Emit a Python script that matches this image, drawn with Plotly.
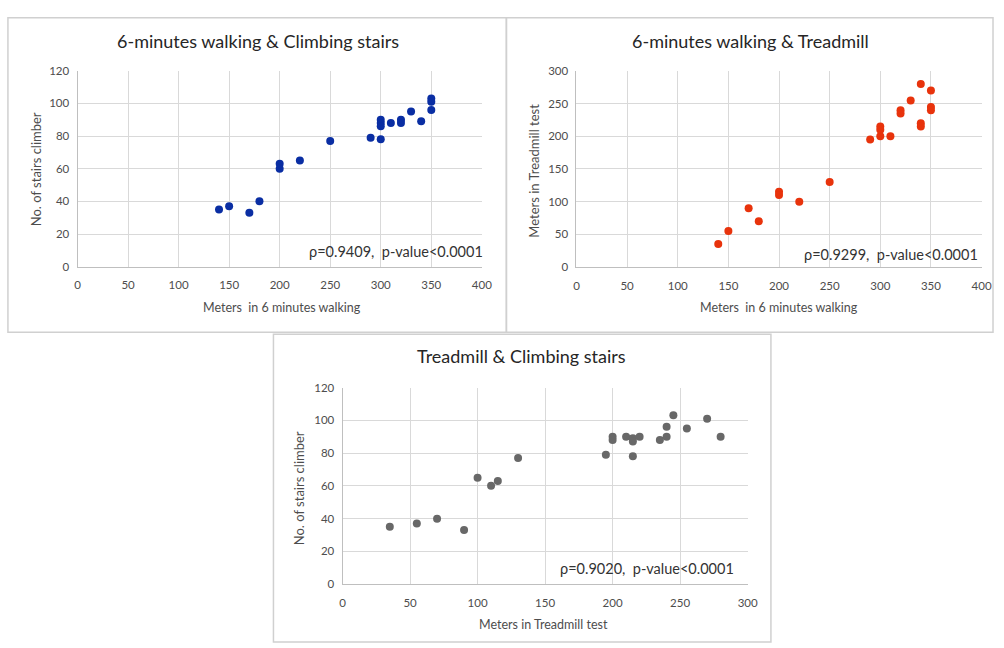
import plotly.graph_objects as go

# ---------------- data ----------------
walk1 = [140, 150, 170, 180, 200, 200, 220, 250, 290, 300, 300, 300, 300, 310, 320, 320, 330, 340, 350, 350, 350]
stairs1 = [35, 37, 33, 40, 63, 60, 65, 77, 79, 78, 90, 88, 86, 88, 90, 88, 95, 89, 103, 101, 96]

walk2 = [140, 150, 170, 180, 200, 200, 220, 250, 290, 300, 300, 300, 310, 320, 320, 330, 340, 340, 340, 350, 350, 350]
tread2 = [35, 55, 90, 70, 115, 110, 100, 130, 195, 200, 215, 210, 200, 240, 235, 255, 280, 220, 215, 270, 245, 240]

tread3 = [35, 55, 70, 90, 100, 110, 115, 130, 195, 200, 200, 210, 215, 215, 215, 220, 235, 240, 240, 245, 255, 270, 280]
stairs3 = [35, 37, 40, 33, 65, 60, 63, 77, 79, 90, 88, 90, 89, 87, 78, 90, 88, 96, 90, 103, 95, 101, 90]

titles = ["6-minutes walking & Climbing stairs", "6-minutes walking & Treadmill", "Treadmill & Climbing stairs"]
xtitles = ["Meters  in 6 minutes walking", "Meters  in 6 minutes walking", "Meters in Treadmill test"]
ytitles = ["No. of stairs climber", "Meters in Treadmill test", "No. of stairs climber"]
notes = ["\u03c1=0.9409,  p-value<0.0001", "\u03c1=0.9299,  p-value<0.0001", "\u03c1=0.9020,  p-value<0.0001"]
colors = ["#0a2ea3", "#e8330c", "#686868"]

W, H = 1004, 648
FONT = "Lato"

def px(x):
    return x / W

def py(y):
    return 1 - y / H

fig = go.Figure()
fig.add_trace(go.Scatter(x=walk1, y=stairs1, mode="markers", xaxis="x", yaxis="y",
                         marker=dict(color=colors[0], size=8), showlegend=False))
fig.add_trace(go.Scatter(x=walk2, y=tread2, mode="markers", xaxis="x2", yaxis="y2",
                         marker=dict(color=colors[1], size=8), showlegend=False))
fig.add_trace(go.Scatter(x=tread3, y=stairs3, mode="markers", xaxis="x3", yaxis="y3",
                         marker=dict(color=colors[2], size=8), showlegend=False))

grid = "#d9d9d9"
axline = "#bfbfbf"
tickfont = dict(family=FONT, size=11.5, color="#4d4d4d")

def xax(dom, anchor, rng, dtick):
    return dict(domain=[px(dom[0]), px(dom[1])], anchor=anchor, range=rng, dtick=dtick,
                showgrid=True, gridcolor=grid, gridwidth=1, showline=True, linecolor=axline,
                zeroline=False, ticks="", tickfont=tickfont, ticklabelstandoff=8, fixedrange=True)

def yax(dom, anchor, rng, dtick):
    return dict(domain=[py(dom[1]), py(dom[0])], anchor=anchor, range=rng, dtick=dtick,
                showgrid=True, gridcolor=grid, gridwidth=1, showline=True, linecolor=axline,
                zeroline=False, ticks="", tickfont=tickfont, ticklabelstandoff=5, fixedrange=True)

fig.update_layout(
    width=W, height=H,
    margin=dict(l=0, r=0, t=0, b=0),
    paper_bgcolor="white", plot_bgcolor="white",
    xaxis=xax((75.5, 485.1), "y", [0, 400], 50),
    yaxis=yax((65, 265), "x", [0, 120], 20),
    xaxis2=xax((581, 991.4), "y2", [0, 400], 50),
    yaxis2=yax((65.3, 265.3), "x2", [0, 300], 50),
    xaxis3=xax((344, 754.4), "y3", [0, 300], 50),
    yaxis3=yax((388.3, 589), "x3", [0, 120], 20),
)

# panel borders
panels = [(5, 11, 510, 332), (510, 11, 1003, 332), (274, 334, 778, 648)]
for (x0, y0, x1, y1) in panels:
    fig.add_shape(type="rect", xref="paper", yref="paper",
                  x0=px(x0), x1=px(x1), y0=py(y1), y1=py(y0),
                  line=dict(color="#d0d0d0", width=1.5), layer="below")

ann = []
title_pos = [(258, 35), (757, 35), (525, 356)]
xt_pos = [(283, 307), (786, 307), (548, 630)]
yt_pos = [(33, 166), (538, 167), (300, 491)]
note_pos = [(488, 250), (990, 253), (743, 573)]
for i in range(3):
    ann.append(dict(text=titles[i], x=px(title_pos[i][0]), y=py(title_pos[i][1]), xref="paper", yref="paper",
                    showarrow=False, xanchor="center", yanchor="middle",
                    font=dict(family=FONT, size=18, color="#262626")))
    ann.append(dict(text=xtitles[i], x=px(xt_pos[i][0]), y=py(xt_pos[i][1]), xref="paper", yref="paper",
                    showarrow=False, xanchor="center", yanchor="middle",
                    font=dict(family=FONT, size=12.5, color="#4d4d4d")))
    ann.append(dict(text=ytitles[i], x=px(yt_pos[i][0]), y=py(yt_pos[i][1]), xref="paper", yref="paper",
                    showarrow=False, xanchor="center", yanchor="middle", textangle=-90,
                    font=dict(family=FONT, size=13, color="#4d4d4d")))
    ann.append(dict(text=notes[i], x=px(note_pos[i][0]), y=py(note_pos[i][1]), xref="paper", yref="paper",
                    showarrow=False, xanchor="right", yanchor="middle",
                    font=dict(family=FONT, size=14.5, color="#333333")))
fig.update_layout(annotations=ann)

fig.write_html("out.html", config={"displayModeBar": False},
               post_script="document.body.style.margin='0';document.body.style.overflow='hidden';")
